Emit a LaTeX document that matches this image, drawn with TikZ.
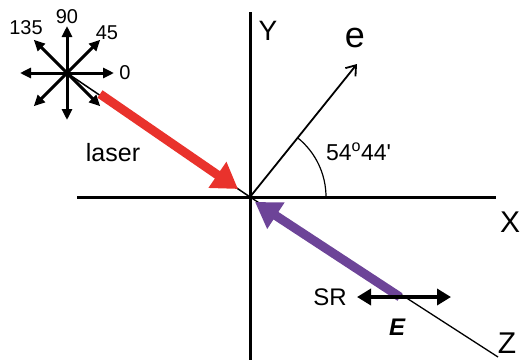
\documentclass[tikz,border=0pt]{standalone}
\usepackage{fontspec}
\setmainfont{Liberation Sans}
\usetikzlibrary{arrows.meta}
\definecolor{laserred}{RGB}{233,50,44}
\definecolor{srpurple}{RGB}{109,68,152}
\tikzset{
  axis/.style={line width=3bp},
  beam/.style={line width=9bp,-{Triangle[length=25bp,width=30bp]}},
  polarrow/.style={line width=3bp,-{Triangle[length=11bp,width=10bp]}},
  lbl/.style={font=\fontsize{20bp}{24bp}\selectfont}
}

\begin{document}
\begin{tikzpicture}[x=1bp,y=-1bp,inner sep=0pt,outer sep=0pt]
  \useasboundingbox (0,0) rectangle (520,360);
  \coordinate (O) at (250,197);
  \coordinate (S) at (67,73);
  \coordinate (Ytop) at (250,12);
  \coordinate (Ybot) at (250,360);
  \coordinate (Xl) at (77,197);
  \coordinate (Xr) at (496,197);
  \coordinate (Zend) at (498,357);
  \coordinate (eTip) at (357,64);
  % axes
  \draw[axis] (Ytop) -- (Ybot);
  \draw[axis] (Xl) -- (Xr);
  \draw[line width=1.3bp] (O) -- (Zend);
  \draw[line width=1.8bp,-{Straight Barb[length=9bp,width=13bp]}] (O) -- (eTip);
  \draw[line width=1.2bp] ([xshift=76bp]O) arc[start angle=0,end angle=51,radius=76bp];
  % polarisation star
  \foreach \a in {0,45,...,315}
    \draw[polarrow] (S) -- ++(\a:47bp);
  \draw[line width=1.5bp] (S) -- (O);
  \node[lbl] (l0) at (125,73) {0};
  \node[lbl] (l45) at (107,33) {45};
  \node[lbl] (l90) at (67,17) {90};
  \node[lbl] (l135) at (26,28) {135};
  % beams
  \coordinate (Lstart) at (100,94);
  \coordinate (Lend) at (238,189);
  \draw[beam,laserred] (Lstart) -- (Lend);
  \coordinate (Rstart) at (400,297);
  \coordinate (Rend) at (255,202);
  \draw[beam,srpurple] (Rstart) -- (Rend);
  \coordinate (El) at (357,297);
  \coordinate (Er) at (451,297);
  \draw[line width=4.5bp,{Triangle[length=14bp,width=16bp]}-{Triangle[length=14bp,width=16bp]}] (El) -- (Er);
  % labels
  \node[font=\fontsize{25bp}{30bp}\selectfont] (laser) at (113,153) {laser};
  \node[font=\fontsize{23bp}{27bp}\selectfont,anchor=west] (angle) at (326,152) {54\textsuperscript{o}44\textquotesingle};
  \node[font=\fontsize{28bp}{32bp}\selectfont] (Ylbl) at (268,31) {Y};
  \node[font=\fontsize{36bp}{40bp}\selectfont] (elbl) at (355,38) {e};
  \node[font=\fontsize{30bp}{34bp}\selectfont] (Xlbl) at (510,222) {X};
  \node[font=\fontsize{30bp}{34bp}\selectfont] (Zlbl) at (507,343) {Z};
  \node[font=\fontsize{24bp}{28bp}\selectfont] (SR) at (330,297) {SR};
  \node[font=\fontsize{24bp}{28bp}\selectfont\bfseries\itshape] (E) at (397,327) {E};
\end{tikzpicture}
\end{document}
